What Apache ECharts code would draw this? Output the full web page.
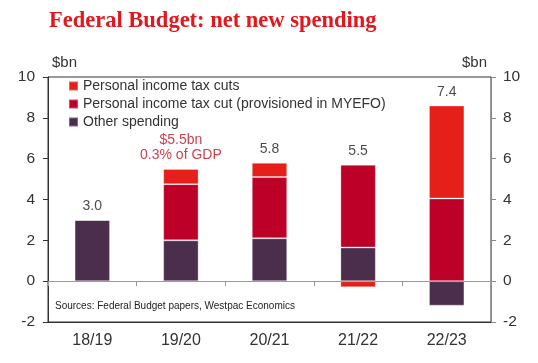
<!DOCTYPE html>
<html>
<head>
<meta charset="utf-8">
<script src="https://cdn.jsdelivr.net/npm/echarts@6/dist/echarts.min.js"></script>
<style>
  html, body { margin: 0; padding: 0; background: #fff; }
  #chart { width: 538px; height: 363px; }
</style>
</head>
<body>
<div id="chart"></div>
<script>
const categories = ['18/19', '19/20', '20/21', '21/22', '22/23'];
const otherSpending = [3.0, 2.0, 2.1, 1.65, -1.2];
const provisioned = [0, 2.75, 3.0, 4.05, 4.05];
const taxCuts = [0, 0.75, 0.7, -0.3, 4.55];
const totalLabels = ['3.0', '$5.5bn\n0.3% of GDP', '5.8', '5.5', '7.4'];
const highlightIndex = 1;
const yTicks = [-2, 0, 2, 4, 6, 8, 10];

const FONT = '"Liberation Sans", Arial, sans-serif';

const chart = echarts.init(document.getElementById('chart'), null, { renderer: 'canvas' });

const positiveTops = categories.map((c, i) =>
  [otherSpending[i], provisioned[i], taxCuts[i]].filter(v => v > 0).reduce((a, b) => a + b, 0)
);

const barBorder = { borderColor: 'rgba(255,255,255,0.3)', borderWidth: 1 };

const option = {
  animation: false,
  backgroundColor: '#ffffff',
  title: {
    text: 'Federal Budget: net new spending',
    left: 49, top: 10, padding: 0,
    textStyle: { fontFamily: '"Liberation Serif", "Times New Roman", serif', fontWeight: 'bold', fontSize: 22.5, color: '#e3171d' }
  },
  legend: {
    orient: 'vertical', left: 68, top: 79, padding: 0,
    itemWidth: 9, itemHeight: 9, itemGap: 4, icon: 'rect',
    textStyle: { fontFamily: FONT, fontSize: 14, color: '#333', padding: [0, 0, 0, 0] },
    data: ['Personal income tax cuts', 'Personal income tax cut (provisioned in MYEFO)', 'Other spending']
  },
  grid: { left: 48, right: 47, top: 77, bottom: 41, show: true, borderColor: '#333', borderWidth: 1, containLabel: false },
  xAxis: [
    {
      type: 'category', data: categories, position: 'bottom',
      axisLine: { onZero: true, lineStyle: { color: '#999', width: 1 } },
      axisTick: { show: true, alignWithLabel: false, length: 5, lineStyle: { color: '#999' } },
      axisLabel: { show: false }
    },
    {
      type: 'category', data: categories, position: 'bottom',
      axisLine: { onZero: false, show: true, lineStyle: { color: '#333', width: 1 } },
      axisTick: { show: false },
      axisLabel: { show: true, margin: 11, fontFamily: FONT, fontSize: 16, color: '#333' }
    }
  ],
  yAxis: [
    {
      type: 'value', min: -2, max: 10, interval: 2, position: 'left',
      axisLine: { show: true, lineStyle: { color: '#333' } },
      axisTick: { show: true, inside: false, length: 5, lineStyle: { color: '#333' } },
      axisLabel: { margin: 13, fontFamily: FONT, fontSize: 15.5, color: '#333' },
      splitLine: { show: false }
    },
    {
      type: 'value', min: -2, max: 10, interval: 2, position: 'right',
      axisLine: { show: true, lineStyle: { color: '#888' } },
      axisTick: { show: true, inside: false, length: 5, lineStyle: { color: '#888' } },
      axisLabel: { margin: 12, fontFamily: FONT, fontSize: 15.5, color: '#333' },
      splitLine: { show: false }
    }
  ],
  series: [
    {
      name: 'Other spending', type: 'bar', stack: 'total', data: otherSpending,
      barWidth: '40%', itemStyle: Object.assign({ color: '#4b2d4c' }, barBorder)
    },
    {
      name: 'Personal income tax cut (provisioned in MYEFO)', type: 'bar', stack: 'total', data: provisioned,
      barWidth: '40%', itemStyle: Object.assign({ color: '#bd0028' }, barBorder)
    },
    {
      name: 'Personal income tax cuts', type: 'bar', stack: 'total', data: taxCuts,
      barWidth: '40%', itemStyle: Object.assign({ color: '#e51f19' }, barBorder)
    },
    {
      name: 'totals', type: 'scatter', symbolSize: 0, silent: true,
      data: positiveTops.map((v, i) => ({
        value: v,
        label: {
          show: true, position: 'top', distance: 6,
          formatter: totalLabels[i],
          fontFamily: FONT, fontSize: 14, lineHeight: 15,
          color: i === highlightIndex ? '#c01020' : '#1a1a1a'
        }
      }))
    }
  ],
  graphic: [
    { type: 'text', left: 52, top: 55, style: { text: '$bn', font: '15px ' + FONT, fill: '#333' } },
    { type: 'text', right: 51, top: 55, style: { text: '$bn', font: '15px ' + FONT, fill: '#333' } },
    { type: 'text', left: 55, top: 301, style: { text: 'Sources: Federal Budget papers, Westpac Economics', font: '10px ' + FONT, fill: '#222' } }
  ]
};

chart.setOption(option);
</script>
</body>
</html>
